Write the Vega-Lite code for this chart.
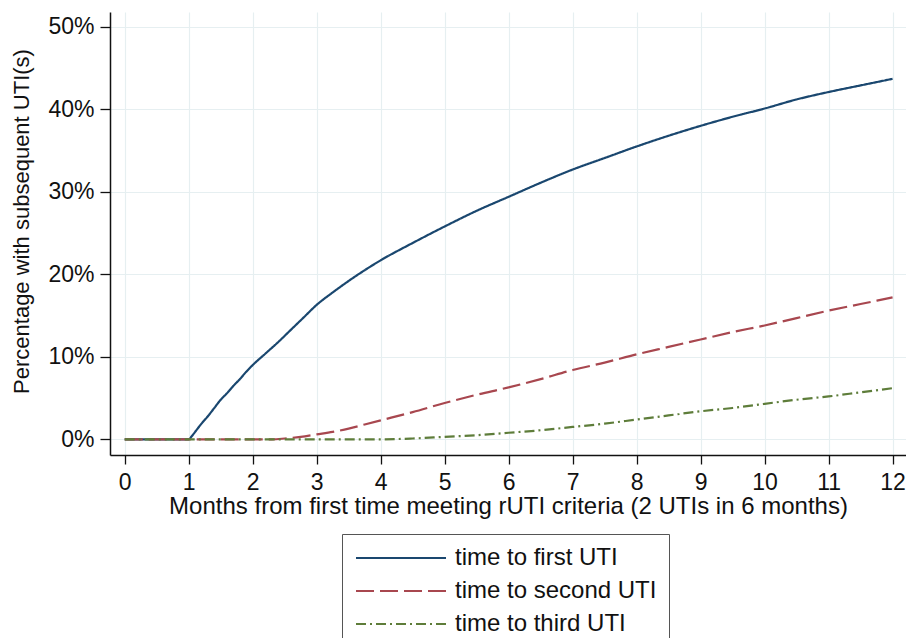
{
  "$schema": "https://vega.github.io/schema/vega-lite/v6.json",
  "width": 796,
  "height": 443,
  "autosize": {"type": "none"},
  "padding": {"left": 110, "top": 12, "right": 0, "bottom": 183},
  "background": "white",
  "config": {
    "view": {"stroke": null},
    "font": "Liberation Sans",
    "axis": {
      "gridColor": "#e6eff1",
      "gridWidth": 1.2,
      "domainColor": "#111111",
      "domainWidth": 1.5,
      "tickColor": "#111111",
      "tickWidth": 1.3,
      "labelColor": "#111111",
      "titleColor": "#111111",
      "labelFont": "Liberation Sans",
      "titleFont": "Liberation Sans",
      "titleFontWeight": "normal"
    },
    "legend": {
      "labelFont": "Liberation Sans",
      "labelFontSize": 24,
      "labelColor": "#111111",
      "labelLimit": 400
    }
  },
  "data": {
    "values": [
      {"t": 0, "pct": 0, "series": "time to first UTI"},
      {"t": 1.0, "pct": 0, "series": "time to first UTI"},
      {"t": 1.05, "pct": 0.004, "series": "time to first UTI"},
      {"t": 1.1, "pct": 0.009, "series": "time to first UTI"},
      {"t": 1.2, "pct": 0.019, "series": "time to first UTI"},
      {"t": 1.3, "pct": 0.028, "series": "time to first UTI"},
      {"t": 1.4, "pct": 0.038, "series": "time to first UTI"},
      {"t": 1.5, "pct": 0.048, "series": "time to first UTI"},
      {"t": 1.6, "pct": 0.056, "series": "time to first UTI"},
      {"t": 1.7, "pct": 0.065, "series": "time to first UTI"},
      {"t": 1.8, "pct": 0.073, "series": "time to first UTI"},
      {"t": 1.9, "pct": 0.082, "series": "time to first UTI"},
      {"t": 2.0, "pct": 0.090, "series": "time to first UTI"},
      {"t": 2.2, "pct": 0.104, "series": "time to first UTI"},
      {"t": 2.4, "pct": 0.118, "series": "time to first UTI"},
      {"t": 2.6, "pct": 0.133, "series": "time to first UTI"},
      {"t": 2.8, "pct": 0.148, "series": "time to first UTI"},
      {"t": 3.0, "pct": 0.163, "series": "time to first UTI"},
      {"t": 3.25, "pct": 0.178, "series": "time to first UTI"},
      {"t": 3.5, "pct": 0.192, "series": "time to first UTI"},
      {"t": 3.75, "pct": 0.205, "series": "time to first UTI"},
      {"t": 4.0, "pct": 0.217, "series": "time to first UTI"},
      {"t": 4.5, "pct": 0.238, "series": "time to first UTI"},
      {"t": 5.0, "pct": 0.258, "series": "time to first UTI"},
      {"t": 5.5, "pct": 0.277, "series": "time to first UTI"},
      {"t": 6.0, "pct": 0.294, "series": "time to first UTI"},
      {"t": 6.5, "pct": 0.311, "series": "time to first UTI"},
      {"t": 7.0, "pct": 0.327, "series": "time to first UTI"},
      {"t": 7.5, "pct": 0.341, "series": "time to first UTI"},
      {"t": 8.0, "pct": 0.355, "series": "time to first UTI"},
      {"t": 8.5, "pct": 0.368, "series": "time to first UTI"},
      {"t": 9.0, "pct": 0.380, "series": "time to first UTI"},
      {"t": 9.5, "pct": 0.391, "series": "time to first UTI"},
      {"t": 10.0, "pct": 0.401, "series": "time to first UTI"},
      {"t": 10.5, "pct": 0.412, "series": "time to first UTI"},
      {"t": 11.0, "pct": 0.421, "series": "time to first UTI"},
      {"t": 11.5, "pct": 0.429, "series": "time to first UTI"},
      {"t": 12.0, "pct": 0.437, "series": "time to first UTI"},
      {"t": 0, "pct": 0, "series": "time to second UTI"},
      {"t": 2.3, "pct": 0, "series": "time to second UTI"},
      {"t": 2.5, "pct": 0.001, "series": "time to second UTI"},
      {"t": 2.75, "pct": 0.003, "series": "time to second UTI"},
      {"t": 3.0, "pct": 0.006, "series": "time to second UTI"},
      {"t": 3.25, "pct": 0.009, "series": "time to second UTI"},
      {"t": 3.5, "pct": 0.013, "series": "time to second UTI"},
      {"t": 3.75, "pct": 0.018, "series": "time to second UTI"},
      {"t": 4.0, "pct": 0.023, "series": "time to second UTI"},
      {"t": 4.5, "pct": 0.033, "series": "time to second UTI"},
      {"t": 5.0, "pct": 0.044, "series": "time to second UTI"},
      {"t": 5.5, "pct": 0.054, "series": "time to second UTI"},
      {"t": 6.0, "pct": 0.063, "series": "time to second UTI"},
      {"t": 6.5, "pct": 0.073, "series": "time to second UTI"},
      {"t": 7.0, "pct": 0.084, "series": "time to second UTI"},
      {"t": 7.5, "pct": 0.093, "series": "time to second UTI"},
      {"t": 8.0, "pct": 0.103, "series": "time to second UTI"},
      {"t": 8.5, "pct": 0.112, "series": "time to second UTI"},
      {"t": 9.0, "pct": 0.121, "series": "time to second UTI"},
      {"t": 9.5, "pct": 0.130, "series": "time to second UTI"},
      {"t": 10.0, "pct": 0.138, "series": "time to second UTI"},
      {"t": 10.5, "pct": 0.147, "series": "time to second UTI"},
      {"t": 11.0, "pct": 0.156, "series": "time to second UTI"},
      {"t": 11.5, "pct": 0.164, "series": "time to second UTI"},
      {"t": 12.0, "pct": 0.172, "series": "time to second UTI"},
      {"t": 0, "pct": 0, "series": "time to third UTI"},
      {"t": 4.0, "pct": 0, "series": "time to third UTI"},
      {"t": 4.5, "pct": 0.001, "series": "time to third UTI"},
      {"t": 5.0, "pct": 0.003, "series": "time to third UTI"},
      {"t": 5.5, "pct": 0.005, "series": "time to third UTI"},
      {"t": 6.0, "pct": 0.008, "series": "time to third UTI"},
      {"t": 6.5, "pct": 0.011, "series": "time to third UTI"},
      {"t": 7.0, "pct": 0.015, "series": "time to third UTI"},
      {"t": 7.5, "pct": 0.019, "series": "time to third UTI"},
      {"t": 8.0, "pct": 0.024, "series": "time to third UTI"},
      {"t": 8.5, "pct": 0.029, "series": "time to third UTI"},
      {"t": 9.0, "pct": 0.034, "series": "time to third UTI"},
      {"t": 9.5, "pct": 0.038, "series": "time to third UTI"},
      {"t": 10.0, "pct": 0.043, "series": "time to third UTI"},
      {"t": 10.5, "pct": 0.048, "series": "time to third UTI"},
      {"t": 11.0, "pct": 0.052, "series": "time to third UTI"},
      {"t": 11.5, "pct": 0.057, "series": "time to third UTI"},
      {"t": 12.0, "pct": 0.062, "series": "time to third UTI"}
    ]
  },
  "mark": {"type": "line", "strokeWidth": 2.2, "interpolate": "monotone"},
  "encoding": {
    "x": {
      "field": "t",
      "type": "quantitative",
      "scale": {"domain": [-0.23, 12.21], "nice": false, "zero": false},
      "axis": {
        "values": [0, 1, 2, 3, 4, 5, 6, 7, 8, 9, 10, 11, 12],
        "title": "Months from first time meeting rUTI criteria (2 UTIs in 6 months)",
        "labelFontSize": 23,
        "titleFontSize": 24,
        "tickSize": 9,
        "labelPadding": 7,
        "titlePadding": 0,
        "grid": true
      }
    },
    "y": {
      "field": "pct",
      "type": "quantitative",
      "scale": {"domain": [-0.019, 0.518], "nice": false, "zero": false},
      "axis": {
        "values": [0, 0.1, 0.2, 0.3, 0.4, 0.5],
        "format": ".0%",
        "title": "Percentage with subsequent UTI(s)",
        "labelFontSize": 23,
        "titleFontSize": 22,
        "tickSize": 10,
        "labelPadding": 6,
        "titlePadding": 14,
        "titleY": 209,
        "grid": true
      }
    },
    "color": {
      "field": "series",
      "type": "nominal",
      "scale": {
        "domain": ["time to first UTI", "time to second UTI", "time to third UTI"],
        "range": ["#1a476f", "#a8474f", "#5e7d3a"]
      },
      "legend": {
        "title": null,
        "orient": "none",
        "legendX": 232,
        "legendY": 522,
        "strokeColor": "#555555",
        "padding": 12,
        "symbolType": "M-1,0H8",
        "symbolSize": 400,
        "symbolStrokeWidth": 2.2,
        "labelOffset": 77,
        "labelLimit": 400,
        "rowPadding": 9
      }
    },
    "strokeDash": {
      "field": "series",
      "type": "nominal",
      "scale": {
        "domain": ["time to first UTI", "time to second UTI", "time to third UTI"],
        "range": [[1, 0], [18, 6], [10, 4, 2, 4]]
      },
      "legend": {
        "title": null,
        "orient": "none",
        "legendX": 232,
        "legendY": 522,
        "strokeColor": "#555555",
        "padding": 12,
        "symbolType": "M-1,0H8",
        "symbolSize": 400,
        "symbolStrokeWidth": 2.2,
        "labelOffset": 77,
        "labelLimit": 400,
        "rowPadding": 9
      }
    }
  }
}
